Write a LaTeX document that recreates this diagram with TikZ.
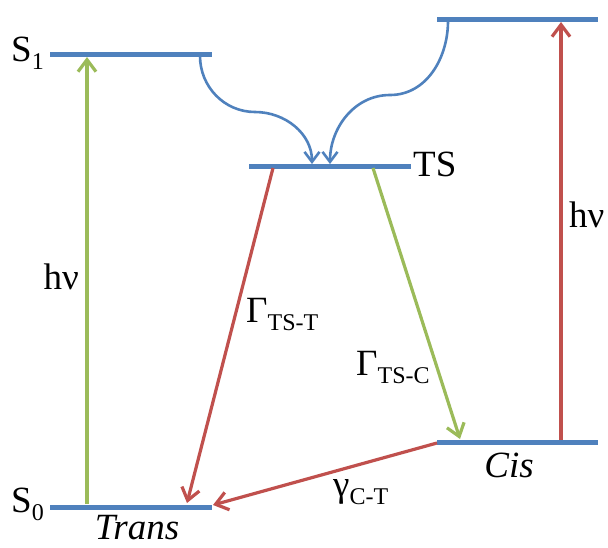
\documentclass[tikz,border=0pt]{standalone}
\usepackage{fontspec}
\setmainfont{Liberation Serif}
\usetikzlibrary{arrows.meta}
\definecolor{lvlblue}{HTML}{4F81BD}
\definecolor{arred}{HTML}{C0504D}
\definecolor{argreen}{HTML}{9BBB59}
\newcommand{\lowsub}[1]{\raisebox{-8pt}{\fontsize{24}{24}\selectfont #1}}
\begin{document}
\begin{tikzpicture}[x=1pt,y=-1pt,
  level/.style={draw=lvlblue,line width=5pt},
  lbl/.style={inner sep=0pt,font=\fontsize{37}{40}\selectfont},
  uparrow/.style={line width=3.2pt,-{Straight Barb[length=12pt,width=18pt,line width=3.2pt]}},
  flow/.style={draw=lvlblue,line width=2.6pt,-{Straight Barb[length=10pt,width=15pt,line width=2.6pt]}}]
\useasboundingbox (0,0) rectangle (608,547);
% level end points
\coordinate (s1a) at (50,54);  \coordinate (s1b) at (212,54);
\coordinate (s0a) at (50,507); \coordinate (s0b) at (212,507);
\coordinate (tsa) at (249,166); \coordinate (tsb) at (411,166);
\coordinate (cua) at (437,19);  \coordinate (cub) at (598,19);
\coordinate (cla) at (437,442); \coordinate (clb) at (598,442);
\draw[level] (s1a) -- (s1b);
\draw[level] (s0a) -- (s0b);
\draw[level] (tsa) -- (tsb);
\draw[level] (cua) -- (cub);
\draw[level] (cla) -- (clb);
% arrow anchor points
\coordinate (g1s) at (87,504);  \coordinate (g1e) at (87,57);
\coordinate (r1s) at (561,440); \coordinate (r1e) at (561,22);
\coordinate (b1s) at (200,56);  \coordinate (b1m) at (255,112); \coordinate (b1e) at (312,164);
\coordinate (b2s) at (448,21);  \coordinate (b2m) at (390,95);  \coordinate (b2e) at (330,164);
\coordinate (rts) at (273,168); \coordinate (rte) at (187,503);
\coordinate (gts) at (373,168); \coordinate (gte) at (460,439);
\coordinate (rcs) at (437,443); \coordinate (rce) at (213,505);
\draw[uparrow,argreen] (g1s) -- (g1e);
\draw[uparrow,arred] (r1s) -- (r1e);
\draw[flow] (b1s) to[out=-90,in=180] (b1m) to[out=0,in=90] (b1e);
\draw[flow] (b2s) to[out=-90,in=0] (b2m) to[out=180,in=90] (b2e);
\draw[uparrow,arred] (rts) -- (rte);
\draw[uparrow,argreen] (gts) -- (gte);
\draw[uparrow,arred] (rcs) -- (rce);
% labels
\node[lbl,anchor=base west] (lS1) at (11,61) {S\lowsub{1}};
\node[lbl,anchor=base west] (lS0) at (11,512) {S\lowsub{0}};
\node[lbl,anchor=base] (ltrans) at (137,539) {\textit{Trans}};
\node[lbl,anchor=base west] (lTS) at (413,176) {TS};
\node[lbl,anchor=base] (lcis) at (509,477) {\textit{Cis}};
\node[lbl,anchor=base east] (lhv1) at (79,289) {hν};
\node[lbl,anchor=base west] (lhv2) at (569,227) {hν};
\node[lbl,anchor=base west] (lGT) at (246,322) {Γ\lowsub{TS-T}};
\node[lbl,anchor=base west] (lGC) at (356,375) {Γ\lowsub{TS-C}};
\node[lbl,anchor=base west] (lgCT) at (333,496) {γ\lowsub{C-T}};
\end{tikzpicture}
\end{document}
